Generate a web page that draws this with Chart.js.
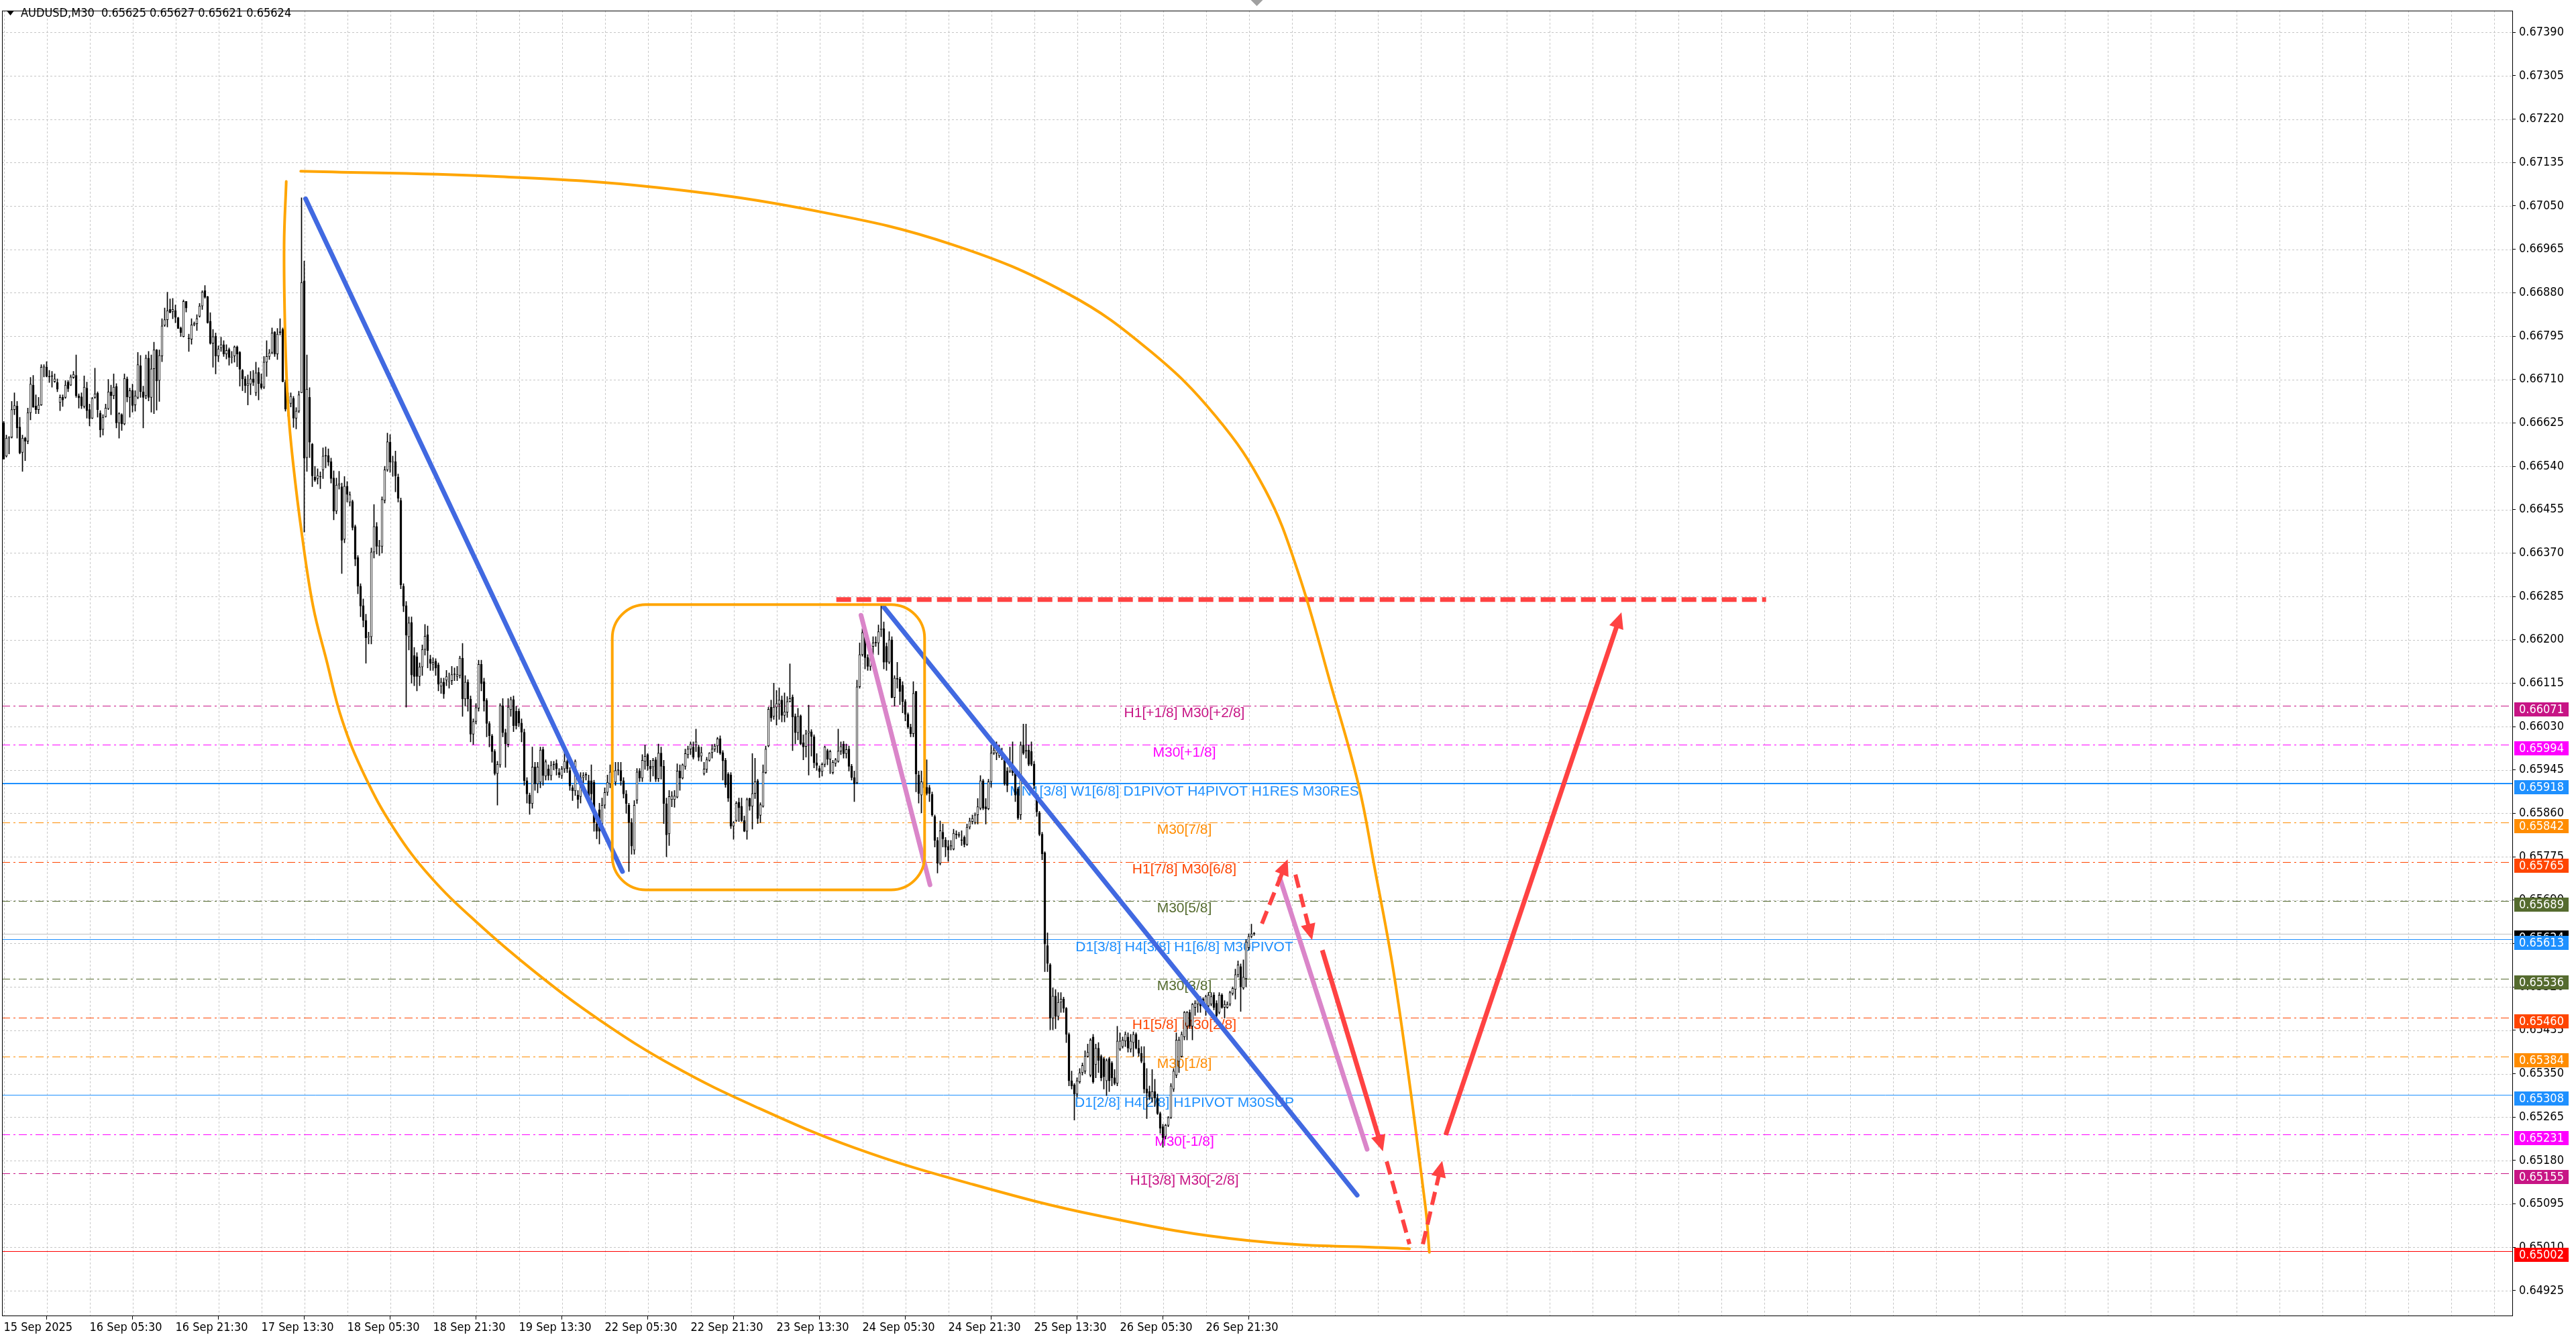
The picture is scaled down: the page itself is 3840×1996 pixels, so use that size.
<!DOCTYPE html>
<html>
<head>
<meta charset="utf-8">
<title>AUDUSD,M30</title>
<script src="https://cdn.jsdelivr.net/npm/chart.js@4.4.1/dist/chart.umd.min.js"></script>
<style>
  html, body { margin: 0; padding: 0; background: #fff; }
  canvas { display: block; }
</style>
</head>
<body>
<canvas id="c" width="3840" height="1996" style="width:3840px;height:1996px"></canvas>
<script>
// ---- header ----
const symbolTitle = 'AUDUSD,M30';
const lastQuote = ['0.65625', '0.65627', '0.65621', '0.65624'];

// ---- axes ----
const timeLabels = ['15 Sep 2025', '16 Sep 05:30', '16 Sep 21:30', '17 Sep 13:30', '18 Sep 05:30',
  '18 Sep 21:30', '19 Sep 13:30', '22 Sep 05:30', '22 Sep 21:30', '23 Sep 13:30', '24 Sep 05:30',
  '24 Sep 21:30', '25 Sep 13:30', '26 Sep 05:30', '26 Sep 21:30'];
const labelStep = 32;   // bars between time labels
const gridStep = 16;    // bars between vertical grid lines
const priceTicks = [0.64925, 0.65010, 0.65095, 0.65180, 0.65265, 0.65350, 0.65435, 0.65520, 0.65605,
  0.65690, 0.65775, 0.65860, 0.65945, 0.66030, 0.66115, 0.66200, 0.66285, 0.66370, 0.66455, 0.66540,
  0.66625, 0.66710, 0.66795, 0.66880, 0.66965, 0.67050, 0.67135, 0.67220, 0.67305, 0.67390];

// ---- M30 candles, prices in 0.00001 ----
const opens = [
  66625,66560,66595,66597,66651,66658,66617,66567,66595,66589,
  66645,66699,66658,66651,66660,66734,66734,66715,66716,66706,
  66704,66665,66675,66675,66705,66699,66714,66718,66678,66676,
  66657,66693,66651,66634,66675,66683,66644,66612,66637,66653,
  66686,66678,66696,66625,66641,66623,66711,66675,66688,66660,
  66675,66737,66686,66678,66752,66675,66731,66768,66708,66756,
  66816,66827,66847,66843,66845,66831,66811,66794,66863,66791,
  66789,66817,66819,66834,66854,66884,66872,66824,66781,66795,
  66756,66772,66778,66760,66769,66753,66756,66774,66763,66728,
  66711,66698,66701,66711,66684,66724,66702,66695,66744,66755,
  66763,66803,66760,66802,66808,66705,66652,66663,66673,66634,
  66648,66684,66903,66557,66675,66583,66519,66516,66520,66533,
  66560,66561,66549,66517,66452,66503,66500,66397,66501,66470,
  66471,66422,66361,66305,66267,66238,66205,66206,66372,66422,
  66383,66383,66473,66533,66587,66548,66549,66519,66473,66305,
  66267,66206,66234,66169,66167,66128,66147,66181,66210,66162,
  66152,66158,66151,66109,66117,66121,66118,66120,66132,66128,
  66130,66164,66084,66117,66084,66015,66040,66066,66152,66118,
  66081,66036,66012,65981,65938,65955,66071,66018,65995,66063,
  66083,66060,66060,66037,66019,65924,65896,65879,65951,65918,
  65921,65985,65933,65947,65934,65955,65958,65940,65934,65947,
  65962,65944,65910,65904,65896,65893,65930,65935,65924,65924,
  65921,65839,65867,65839,65876,65901,65918,65941,65921,65944,
  65944,65924,65898,65876,65842,65788,65886,65943,65929,65962,
  65975,65952,65951,65965,65928,65978,65952,65879,65820,65887,
  65887,65892,65943,65929,65952,65975,65986,65990,65994,65990,
  65972,65938,65946,65964,65979,65986,65992,66006,65979,65964,
  65937,65935,65835,65846,65882,65874,65846,65825,65889,65874,
  65899,65924,65856,65874,65940,65992,66068,66050,66068,66074,
  66082,66052,66058,66079,66088,66050,66018,66051,65998,65991,
  66017,66020,66010,65959,65948,65942,65956,65983,65966,65940,
  65958,65962,65982,65996,65977,65986,65952,65930,65920,66108,
  66171,66210,66165,66148,66187,66194,66194,66220,66222,66187,
  66156,66200,66087,66123,66123,66111,66079,66054,66029,66016,
  66099,65935,65896,65922,65911,65910,65897,65854,65807,65762,
  65823,65808,65795,65795,65790,65818,65818,65807,65813,65799,
  65833,65844,65842,65857,65870,65924,65873,65869,65922,65978,
  65978,65973,65981,65972,65943,65943,65950,65943,65908,65857,
  65994,65982,65984,65981,65956,65892,65861,65819,65783,65601,
  65563,65459,65502,65462,65490,65496,65478,65427,65336,65328,
  65310,65334,65352,65355,65384,65347,65422,65368,65400,65384,
  65379,65336,65379,65371,65342,65331,65398,65403,65414,65422,
  65398,65411,65427,65400,65390,65371,65320,65315,65302,65315,
  65302,65272,65246,65227,65249,65264,65320,65347,65374,65384,
  65422,65443,65470,65443,65480,65486,65496,65496,65480,65483,
  65486,65504,65488,65470,65504,65480,65480,65486,65507,65515,
  65544,65560,65518,65536,65597,65619,65625];
const highs = [
  66628,66601,66598,66667,66684,66667,66636,66601,66597,66654,
  66714,66718,66680,66675,66739,66739,66745,66728,66726,66721,
  66711,66680,66680,66708,66708,66719,66726,66758,66682,66684,
  66717,66705,66662,66675,66732,66686,66649,66641,66662,66710,
  66699,66721,66702,66645,66643,66721,66715,66693,66701,66688,
  66763,66757,66697,66758,66765,66758,66783,66769,66768,66829,
  66850,66881,66868,66869,66856,66832,66813,66866,66863,66799,
  66829,66823,66837,66859,66884,66894,66873,66841,66808,66801,
  66776,66793,66786,66778,66772,66765,66776,66776,66765,66730,
  66716,66719,66726,66728,66744,66733,66721,66755,66786,66769,
  66811,66804,66810,66829,66811,66709,66684,66684,66677,66655,
  66687,67066,66942,66758,66694,66585,66540,66535,66529,66576,
  66578,66574,66556,66531,66517,66530,66507,66520,66510,66490,
  66474,66425,66365,66310,66280,66250,66215,66380,66465,66430,
  66395,66480,66540,66605,66602,66560,66570,66525,66478,66310,
  66275,66245,66245,66185,66175,66155,66190,66230,66227,66170,
  66165,66163,66155,66125,66125,66140,66135,66148,66145,66148,
  66168,66193,66130,66122,66090,66045,66075,66160,66160,66125,
  66085,66040,66015,65985,65962,66075,66085,66025,66085,66088,
  66090,66070,66065,66045,66025,65930,65900,65990,65960,65960,
  65990,65990,65965,65955,65962,65962,65965,65948,65952,65980,
  65965,65950,65915,65965,65905,65940,65940,65940,65935,65955,
  65925,65850,65880,65890,65910,65935,65955,65960,65960,65960,
  65960,65930,65905,65880,65850,65885,65948,65948,65975,65994,
  65977,65964,65968,65970,65996,65990,65964,65890,65905,65903,
  65905,65957,65955,65957,65986,65992,66000,66000,66025,65994,
  65990,65960,65970,65979,65995,65996,66009,66012,65983,65968,
  65940,65940,65844,65883,65890,65890,65855,65890,65890,65977,
  65968,65927,65881,65955,65992,66068,66082,66115,66101,66106,
  66090,66096,66089,66153,66092,66055,66066,66053,66014,66023,
  66072,66024,66014,65977,65953,65959,65992,65986,65984,65964,
  65968,66025,66000,66001,65996,65992,65956,65943,66121,66194,
  66222,66219,66171,66190,66206,66206,66229,66267,66235,66194,
  66216,66206,66130,66156,66127,66118,66083,66057,66035,66118,
  66099,65943,65943,65930,65965,65915,65902,65857,65813,65845,
  65839,65813,65807,65807,65829,65826,65823,65826,65816,65839,
  65851,65857,65861,65889,65934,65927,65889,65927,65994,65994,
  66000,65994,65988,65975,65950,65990,66000,65946,65911,66000,
  66035,66035,65994,66000,65962,65899,65864,65823,65785,65626,
  65566,65518,65515,65509,65509,65500,65480,65430,65355,65331,
  65342,65360,65371,65395,65408,65419,65427,65408,65411,65387,
  65382,65379,65382,65374,65358,65443,65430,65422,65432,65430,
  65427,65432,65430,65416,65403,65403,65360,65326,65358,65339,
  65310,65275,65251,65251,65266,65331,65360,65430,65422,65432,
  65472,65472,65475,65488,65493,65499,65501,65499,65504,65509,
  65509,65509,65493,65509,65507,65493,65491,65512,65520,65555,
  65571,65565,65573,65613,65624,65643,65627];
const lows = [
  66554,66558,66564,66595,66641,66595,66564,66530,66551,66584,
  66631,66655,66643,66643,66659,66715,66715,66704,66695,66704,
  66686,66649,66657,66673,66686,66698,66712,66675,66654,66653,
  66654,66634,66619,66633,66673,66636,66597,66601,66636,66651,
  66641,66672,66615,66595,66610,66621,66666,66636,66646,66648,
  66672,66675,66615,66672,66668,66646,66643,66650,66667,66745,
  66814,66813,66840,66829,66821,66810,66794,66793,66842,66765,
  66779,66815,66806,66832,66847,66869,66820,66779,66734,66721,
  66745,66765,66755,66750,66738,66742,66744,66735,66697,66688,
  66684,66660,66680,66698,66678,66670,66691,66692,66716,66749,
  66760,66755,66749,66797,66705,66648,66638,66656,66616,66613,
  66645,66684,66411,66530,66557,66500,66510,66505,66496,66516,
  66537,66541,66507,66435,66447,66495,66330,66390,66470,66462,
  66415,66345,66290,66245,66225,66154,66192,66192,66360,66368,
  66365,66370,66468,66530,66528,66520,66490,66470,66300,66255,
  66068,66180,66115,66110,66100,66110,66130,66170,66145,66140,
  66140,66130,66100,66095,66085,66110,66105,66112,66120,66120,
  66125,66050,66070,66060,66000,65995,66035,66060,66100,66060,
  66010,65990,65960,65935,65876,65950,66010,65950,65990,66050,
  66020,66025,66030,66000,65915,65880,65858,65870,65905,65900,
  65910,65915,65925,65925,65925,65945,65935,65930,65928,65940,
  65940,65905,65885,65895,65870,65880,65920,65925,65880,65885,
  65825,65810,65800,65830,65870,65895,65910,65930,65915,65935,
  65915,65890,65860,65746,65780,65780,65879,65922,65922,65946,
  65944,65922,65933,65922,65922,65927,65840,65775,65797,65873,
  65872,65890,65905,65927,65946,65968,65975,65966,65981,65963,
  65962,65935,65940,65962,65968,65981,65979,65975,65925,65911,
  65883,65830,65809,65844,65844,65844,65824,65809,65866,65829,
  65889,65840,65842,65872,65938,65990,66040,66044,66033,66044,
  66039,66039,66048,66078,65983,65996,66004,65994,65965,65970,
  65935,65972,65949,65944,65930,65933,65951,65955,65938,65937,
  65952,65960,65975,65968,65968,65943,65925,65883,65918,66105,
  66168,66143,66140,66140,66171,66187,66171,66206,66143,66140,
  66153,66086,66070,66105,66073,66057,66041,66026,66010,66010,
  65902,65880,65861,65900,65896,65883,65854,65794,65743,65759,
  65794,65775,65766,65788,65788,65810,65813,65797,65794,65797,
  65829,65839,65839,65839,65867,65867,65839,65867,65911,65975,
  65965,65969,65965,65915,65902,65940,65934,65883,65848,65848,
  65975,65968,65953,65953,65908,65854,65816,65769,65550,65550,
  65436,65436,65438,65455,65470,65470,65411,65326,65320,65259,
  65304,65331,65347,65350,65382,65344,65331,65342,65352,65336,
  65320,65307,65315,65326,65328,65326,65395,65400,65403,65392,
  65392,65384,65398,65384,65371,65312,65262,65299,65294,65286,
  65270,65233,65206,65222,65246,65262,65315,65342,65352,65382,
  65416,65416,65438,65416,65464,65470,65470,65486,65464,65480,
  65483,65475,65448,65467,65478,65459,65478,65483,65504,65496,
  65539,65472,65515,65520,65592,65616,65621];
const closes = [
  66554,66595,66597,66651,66659,66615,66566,66595,66589,66645,
  66701,66656,66651,66660,66734,66735,66716,66715,66716,66711,
  66691,66675,66670,66699,66692,66715,66720,66678,66674,66658,
  66695,66649,66633,66673,66682,66651,66611,66636,66654,66686,
  66678,66695,66625,66643,66623,66712,66676,66688,66659,66678,
  66739,66686,66675,66752,66675,66731,66768,66707,66757,66815,
  66827,66845,66841,66847,66832,66810,66802,66863,66850,66790,
  66817,66820,66829,66854,66881,66871,66821,66781,66794,66756,
  66770,66778,66760,66767,66753,66754,66774,66760,66730,66711,
  66698,66702,66711,66704,66723,66702,66694,66744,66755,66762,
  66801,66760,66799,66802,66706,66652,66670,66677,66634,66648,
  66680,66900,66556,66691,66587,66521,66513,66522,66519,66560,
  66560,66548,66516,66452,66503,66506,66395,66501,66485,66484,
  66420,66358,66305,66266,66238,66204,66206,66372,66422,66383,
  66384,66475,66533,66588,66548,66549,66521,66477,66308,66266,
  66209,66233,66131,66128,66128,66147,66181,66207,66179,66154,
  66156,66145,66113,66117,66094,66128,66119,66132,66132,66132,
  66164,66084,66117,66084,66015,66040,66067,66152,66114,66080,
  66036,66012,65981,65938,65956,66071,66018,65996,66068,66083,
  66032,66032,66037,66019,65924,65898,65879,65951,65918,65951,
  65984,65934,65961,65934,65954,65955,65947,65936,65947,65962,
  65947,65914,65904,65962,65887,65930,65934,65935,65887,65898,
  65842,65825,65825,65876,65901,65921,65941,65944,65944,65944,
  65924,65898,65879,65842,65796,65876,65941,65929,65964,65972,
  65953,65947,65964,65927,65978,65952,65879,65818,65893,65894,
  65894,65943,65929,65955,65977,65986,65996,65970,66000,65970,
  65979,65947,65965,65978,65986,65992,66006,65978,65963,65916,
  65890,65835,65842,65880,65871,65846,65825,65887,65874,65899,
  65922,65850,65877,65941,65986,66064,66047,66068,66075,66082,
  66052,66059,66079,66085,66049,66018,66050,65996,65990,66016,
  66021,66011,65959,65954,65942,65956,65990,65966,65981,65960,
  65965,65982,65991,65977,65985,65952,65930,65918,66108,66171,
  66214,66165,66148,66176,66194,66194,66216,66222,66156,66156,
  66200,66087,66125,66123,66099,66079,66054,66029,66016,66095,
  65937,65899,65922,65910,65899,65899,65857,65807,65762,65826,
  65810,65794,65788,65797,65821,65818,65817,65807,65799,65833,
  65845,65850,65857,65873,65924,65870,65869,65922,65978,65984,
  65988,65984,65972,65918,65915,65959,65940,65896,65851,65994,
  65978,65982,65956,65956,65915,65863,65819,65781,65604,65566,
  65459,65502,65462,65490,65496,65478,65427,65336,65326,65310,
  65336,65352,65366,65384,65392,65416,65334,65400,65376,65342,
  65344,65376,65336,65342,65331,65414,65414,65416,65427,65400,
  65414,65427,65400,65390,65374,65320,65312,65304,65315,65302,
  65272,65243,65225,65249,65264,65326,65355,65416,65416,65427,
  65470,65470,65443,65486,65488,65496,65483,65491,65501,65504,
  65501,65480,65464,65504,65480,65486,65486,65509,65517,65544,
  65563,65520,65539,65608,65619,65624,65624];
const pointSize = 100000;

// ---- Murrey / pivot levels ----
const levelPrices = [0.66071, 0.65994, 0.65918, 0.65842, 0.65765, 0.65689, 0.65613,
  0.65536, 0.65460, 0.65384, 0.65308, 0.65231, 0.65155];
const levelNames = ['H1[+1/8] M30[+2/8]', 'M30[+1/8]', 'MN1[3/8] W1[6/8] D1PIVOT H4PIVOT H1RES M30RES',
  'M30[7/8]', 'H1[7/8] M30[6/8]', 'M30[5/8]', 'D1[3/8] H4[3/8] H1[6/8] M30PIVOT', 'M30[3/8]',
  'H1[5/8] M30[2/8]', 'M30[1/8]', 'D1[2/8] H4[2/8] H1PIVOT M30SUP', 'M30[-1/8]', 'H1[3/8] M30[-2/8]'];
const levelLabelBar = 440;
const bidPrice = 0.65624;
const targetPrice = 0.65002;

// ---- drawn objects, [bar, price] ----
const trendBlueA = [[112.5, 0.67064], [230.6, 0.65746]];
const trendBlueB = [[328.0, 0.66264], [504.4, 0.65112]];
const trendPinkA = [[319.5, 0.66248], [345.2, 0.65720]];
const trendPinkB = [[475.6, 0.65733], [508.1, 0.65202]];
const resistanceDash = [[310.3, 0.66279], [656.8, 0.66279]];
const arcUpper = [[110.7, 0.67118], [182.3, 0.67108], [243.5, 0.67086], [304.8, 0.67038], [353.7, 0.66974],
  [396.6, 0.66878], [427.2, 0.66766], [451.7, 0.66638], [470.1, 0.66494], [482.3, 0.66334],
  [494.9, 0.66106], [504.9, 0.65916], [510.6, 0.65762], [518.8, 0.65522], [529.8, 0.65091], [531.3, 0.65000]];
const arcLower = [[105.3, 0.67098], [104.5, 0.66974], [104.9, 0.66797], [106.0, 0.66655], [107.8, 0.66549],
  [111.1, 0.66408], [115.3, 0.66266], [120.3, 0.66160], [126.1, 0.66043], [134.5, 0.65934],
  [145.6, 0.65829], [159.0, 0.65736], [176.2, 0.65647], [197.6, 0.65551], [222.1, 0.65455],
  [249.6, 0.65365], [280.3, 0.65285], [317.0, 0.65205], [359.9, 0.65135], [408.8, 0.65071],
  [463.9, 0.65023], [523.9, 0.65007]];
const rangeBoxBars = [226.8, 343.2];
const rangeBoxPrices = [0.65710, 0.66269];
const arrowDown = [[491.4, 0.65592], [514.0, 0.65198]];
const arrowUp = [[537.4, 0.65230], [602.9, 0.66254]];
const pathUpSmall = [[468.9, 0.65644], [478.5, 0.65770]];
const pathDownSmall = [[481.4, 0.65740], [487.6, 0.65612]];
const pathLegDown = [[515.4, 0.65178], [523.9, 0.65016]];
const pathLegUp = [[528.9, 0.65016], [536.1, 0.65179]];

// ---- styles ----
const axisFont = '"DejaVu Sans Condensed", "Liberation Sans Narrow", "DejaVu Sans", sans-serif';
const labelFont = '21px "Liberation Sans", Arial, sans-serif';
const levelColors = ['#C71585', '#FF00FF', '#1E90FF', '#FF8C00', '#FF4500', '#556B2F', '#1E90FF',
  '#556B2F', '#FF4500', '#FF8C00', '#1E90FF', '#FF00FF', '#C71585'];
const levelSolid = [false, false, true, false, false, false, true, false, false, false, true, false, false];
const levelWidth = [1, 1, 2, 1, 1, 1, 1, 1, 1, 1, 1, 1, 1];
const arrowRed = '#FF4242';
const arrowSpecs = [
  {pts: arrowDown, dashed: false, head: true},
  {pts: arrowUp, dashed: false, head: true},
  {pts: pathUpSmall, dashed: true, head: true},
  {pts: pathDownSmall, dashed: true, head: true},
  {pts: pathLegDown, dashed: true, head: false},
  {pts: pathLegUp, dashed: true, head: true}
];

const toXY = arr => arr.map(p => ({x: p[0], y: p[1]}));
const n = Math.min(opens.length, highs.length, lows.length, closes.length);
const wicks = [], bodies = [], bodyColors = [];
for (let i = 0; i < n; i++) {
  const o = opens[i] / pointSize, c = closes[i] / pointSize;
  const h = Math.max(highs[i], opens[i], closes[i]) / pointSize;
  const l = Math.min(lows[i], opens[i], closes[i]) / pointSize;
  wicks.push({x: i, y: [l, h]});
  bodies.push({x: i, y: [o, c]});
  bodyColors.push(closes[i] > opens[i] ? '#FFFFFF' : '#000000');
}

function seg(ctx, x1, y1, x2, y2) {
  ctx.beginPath(); ctx.moveTo(x1, y1); ctx.lineTo(x2, y2); ctx.stroke();
}

function drawArrow(ctx, xs, ys, spec) {
  const x0 = xs.getPixelForValue(spec.pts[0][0]), y0 = ys.getPixelForValue(spec.pts[0][1]);
  const x1 = xs.getPixelForValue(spec.pts[1][0]), y1 = ys.getPixelForValue(spec.pts[1][1]);
  const len = Math.hypot(x1 - x0, y1 - y0);
  const ux = (x1 - x0) / len, uy = (y1 - y0) / len;
  const hl = 24, hw = 11;
  const cut = spec.head ? hl * 0.8 : 0;
  ctx.strokeStyle = arrowRed;
  ctx.lineWidth = spec.dashed ? 6 : 7;
  ctx.lineCap = 'butt';
  ctx.setLineDash(spec.dashed ? [20, 10] : []);
  seg(ctx, x0, y0, x1 - ux * cut, y1 - uy * cut);
  if (spec.head) {
    const bx = x1 - ux * hl, by = y1 - uy * hl;
    ctx.fillStyle = arrowRed;
    ctx.beginPath();
    ctx.moveTo(x1, y1);
    ctx.lineTo(bx - uy * hw, by + ux * hw);
    ctx.lineTo(bx + uy * hw, by - ux * hw);
    ctx.closePath();
    ctx.fill();
  }
}

const mtPlugin = {
  id: 'mtObjects',
  beforeDatasetsDraw(chart) {
    const {ctx, chartArea: a, scales: {x, y}} = chart;
    ctx.save();
    ctx.beginPath(); ctx.rect(a.left, a.top, a.right - a.left, a.bottom - a.top); ctx.clip();
    // dotted grid
    ctx.strokeStyle = '#C6C6C6'; ctx.lineWidth = 1; ctx.setLineDash([3, 3]);
    priceTicks.forEach(p => {
      const py = Math.round(y.getPixelForValue(p)) + 0.5;
      seg(ctx, a.left, py, a.right, py);
    });
    for (let b = 0; ; b += gridStep) {
      const px = Math.round(x.getPixelForValue(b)) + 0.5;
      if (px > a.right) break;
      seg(ctx, px, a.top, px, a.bottom);
    }
    // bid and target lines
    ctx.setLineDash([]);
    ctx.strokeStyle = '#C0C0C0';
    let py = Math.round(y.getPixelForValue(bidPrice)) + 0.5;
    seg(ctx, a.left, py, a.right, py);
    ctx.strokeStyle = '#FF0000';
    py = Math.round(y.getPixelForValue(targetPrice)) + 0.5;
    seg(ctx, a.left, py, a.right, py);
    // levels
    levelPrices.forEach((p, k) => {
      const w = levelWidth[k];
      const ly = Math.round(y.getPixelForValue(p)) + (w % 2 ? 0.5 : 0);
      ctx.strokeStyle = levelColors[k];
      ctx.lineWidth = w;
      ctx.setLineDash(levelSolid[k] ? [] : [12, 5, 3, 5]);
      seg(ctx, a.left, ly, a.right, ly);
    });
    ctx.setLineDash([]);
    ctx.font = labelFont;
    ctx.textAlign = 'center';
    ctx.textBaseline = 'top';
    const lx = x.getPixelForValue(levelLabelBar);
    levelPrices.forEach((p, k) => {
      ctx.fillStyle = levelColors[k];
      ctx.fillText(levelNames[k], lx, y.getPixelForValue(p) + 1);
    });
    ctx.restore();
  },
  afterDatasetsDraw(chart) {
    const {ctx, chartArea: a, scales: {x, y}} = chart;
    ctx.save();
    ctx.beginPath(); ctx.rect(a.left, a.top, a.right - a.left, a.bottom - a.top); ctx.clip();
    // consolidation box
    const bx0 = x.getPixelForValue(rangeBoxBars[0]), bx1 = x.getPixelForValue(rangeBoxBars[1]);
    const by0 = y.getPixelForValue(rangeBoxPrices[1]), by1 = y.getPixelForValue(rangeBoxPrices[0]);
    ctx.strokeStyle = '#FFA500'; ctx.lineWidth = 4; ctx.setLineDash([]);
    ctx.beginPath(); ctx.roundRect(bx0, by0, bx1 - bx0, by1 - by0, 50); ctx.stroke();
    arrowSpecs.forEach(s => drawArrow(ctx, x, y, s));
    ctx.restore();
  },
  afterDraw(chart) {
    const {ctx, chartArea: a, scales: {x, y}} = chart;
    ctx.save();
    // frame
    ctx.strokeStyle = '#000'; ctx.lineWidth = 1; ctx.setLineDash([]);
    ctx.strokeRect(a.left + 0.5, a.top + 0.5, a.right - a.left - 1, a.bottom - a.top - 1);
    // price tags on the scale
    ctx.font = '18px ' + axisFont;
    ctx.textAlign = 'left';
    ctx.textBaseline = 'middle';
    const tag = (p, col) => {
      const ty = y.getPixelForValue(p);
      ctx.fillStyle = col;
      ctx.fillRect(a.right + 2, Math.round(ty) - 5, 81, 21);
      ctx.fillStyle = '#FFFFFF';
      ctx.fillText(p.toFixed(5), a.right + 9, Math.round(ty) + 6);
    };
    tag(bidPrice, '#000000');
    levelPrices.forEach((p, k) => tag(p, levelColors[k]));
    tag(targetPrice, '#FF0000');
    // chart shift marker
    const sx = x.getPixelForValue(n);
    ctx.fillStyle = '#A0A0A0';
    ctx.beginPath(); ctx.moveTo(sx - 9, 0); ctx.lineTo(sx + 9, 0); ctx.lineTo(sx, 9); ctx.closePath(); ctx.fill();
    // header
    ctx.fillStyle = '#000';
    ctx.beginPath(); ctx.moveTo(10, 16); ctx.lineTo(21, 16); ctx.lineTo(15.5, 23); ctx.closePath(); ctx.fill();
    ctx.fillText(symbolTitle + '  ' + lastQuote.join(' '), 31, 20);
    ctx.restore();
  }
};

const lineSet = (pts, color, width, extra) => Object.assign({
  type: 'line', data: toXY(pts), borderColor: color, borderWidth: width,
  pointRadius: 0, fill: false, tension: 0, borderCapStyle: 'round', order: 0
}, extra || {});

new Chart(document.getElementById('c'), {
  type: 'bar',
  data: {
    datasets: [
      lineSet(arcUpper, '#FFA500', 4, {tension: 0.4}),
      lineSet(arcLower, '#FFA500', 4, {tension: 0.4}),
      lineSet(trendBlueA, '#4169E1', 7),
      lineSet(trendBlueB, '#4169E1', 7),
      lineSet(trendPinkA, '#DA85C9', 7),
      lineSet(trendPinkB, '#DA85C9', 7),
      lineSet(resistanceDash, arrowRed, 7, {borderDash: [22, 8], borderCapStyle: 'butt'}),
      {
        label: 'bodies', data: bodies, backgroundColor: bodyColors, borderColor: '#000000',
        borderWidth: 1, borderSkipped: false, barThickness: 3, grouped: false, minBarLength: 1, order: 1
      },
      {
        label: 'wicks', data: wicks, backgroundColor: '#000000', borderWidth: 0,
        barThickness: 1, grouped: false, order: 2
      }
    ]
  },
  options: {
    responsive: false,
    animation: false,
    devicePixelRatio: 1,
    events: [],
    layout: {padding: {left: 3, top: 4, right: 0, bottom: 0}},
    plugins: {legend: {display: false}, tooltip: {enabled: false}},
    scales: {
      x: {
        type: 'linear', min: -0.625, max: 935.125, offset: false,
        grid: {display: true, drawOnChartArea: false, drawTicks: true, tickLength: 5, color: '#000000'},
        border: {display: false},
        afterBuildTicks: s => { s.ticks = timeLabels.map((_, k) => ({value: k * labelStep})); },
        afterFit: s => { s.height = 34; },
        ticks: {
          autoSkip: false, maxRotation: 0, minRotation: 0, align: 'start', padding: 2, color: '#000000',
          font: {family: axisFont, size: 18},
          callback: v => timeLabels[Math.round(v / labelStep)] || ''
        }
      },
      y: {
        type: 'linear', position: 'right', min: 0.648749, max: 0.674327,
        grid: {display: true, drawOnChartArea: false, drawTicks: true, tickLength: 4, color: '#000000'},
        border: {display: false},
        afterBuildTicks: s => { s.ticks = priceTicks.map(v => ({value: v})); },
        afterFit: s => { s.width = 94; },
        ticks: {
          padding: 5, color: '#000000', font: {family: axisFont, size: 18},
          callback: v => Number(v).toFixed(5)
        }
      }
    }
  },
  plugins: [mtPlugin]
});
</script>
</body>
</html>
